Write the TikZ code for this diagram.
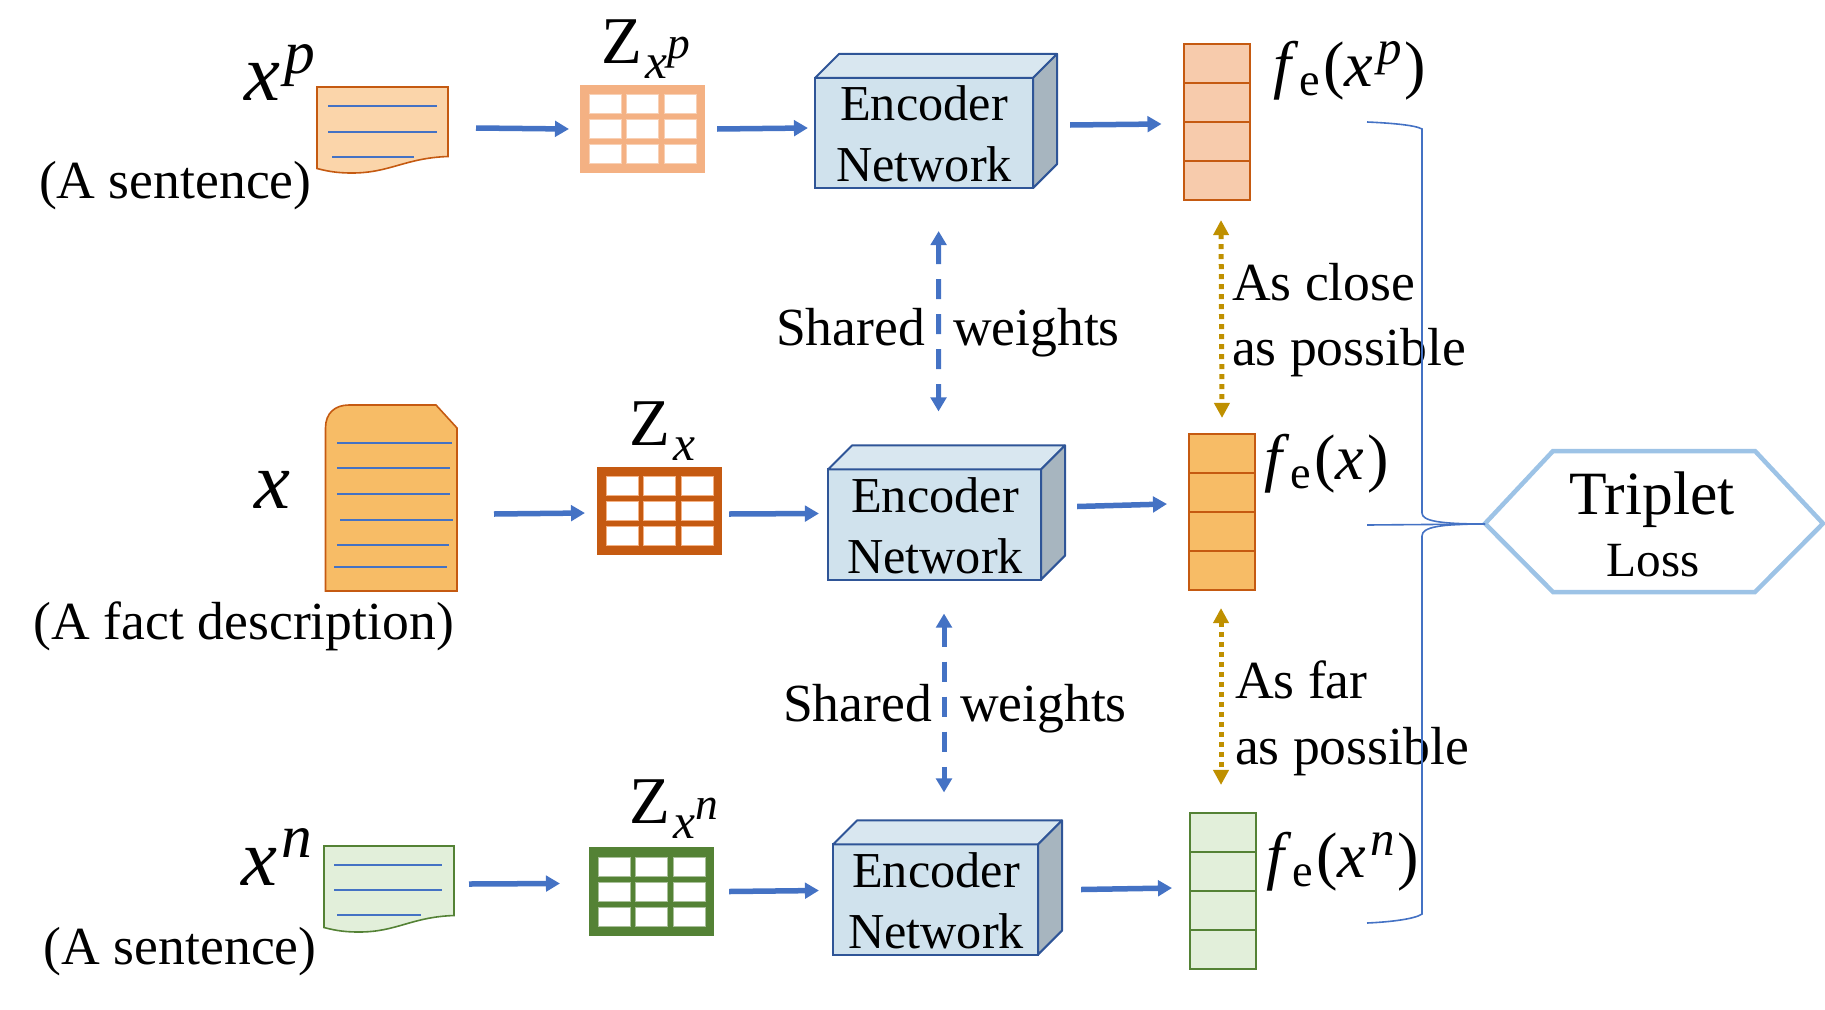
\documentclass[tikz,border=0pt]{standalone}
\usepackage{fontspec}
\setmainfont{Liberation Serif}
\usepackage{xcolor}
\usepackage{tikz}
\usetikzlibrary{arrows.meta,calc}
\definecolor{flowblue}{RGB}{68,114,196}
\definecolor{goldline}{RGB}{191,144,0}
\definecolor{encline}{RGB}{47,85,151}
\definecolor{encfront}{RGB}{208,226,237}
\definecolor{enctop}{RGB}{217,231,240}
\definecolor{encside}{RGB}{167,181,191}
\definecolor{lossline}{RGB}{157,195,230}
\definecolor{topdraw}{RGB}{197,90,17}
\definecolor{topdoc}{RGB}{251,213,170}
\definecolor{topvec}{RGB}{247,203,172}
\definecolor{topgrid}{RGB}{244,177,131}
\definecolor{middoc}{RGB}{247,188,102}
\definecolor{botdraw}{RGB}{84,130,53}
\definecolor{botdoc}{RGB}{226,239,218}
\tikzset{
  flow/.style={
    -{Triangle[length=.14cm,width=.155cm]},
    flowblue,
    line width=.055cm
  },
  shared/.style={
    {Triangle[length=.14cm,width=.155cm]}-{Triangle[length=.14cm,width=.155cm]},
    flowblue,
    line width=.05cm,
    dash pattern=on .2cm off .15cm
  },
  gap/.style={
    {Triangle[length=.15cm,width=.15cm]}-{Triangle[length=.15cm,width=.15cm]},
    goldline,
    line width=.05cm,
    dash pattern=on .05cm off .05cm
  },
  docline/.style={flowblue, line width=.012cm},
  bracket/.style={flowblue, line width=.016cm},
  encoder/.style={
    draw=encline,
    fill=encfront,
    line width=.02cm,
    inner sep=0,
    outer sep=0,
    minimum height=1.1cm
  },
  enclabel/.style={
    inner sep=0,
    outer sep=0,
    align=center,
    font=\fontsize{14.3}{17.3}\selectfont
  },
  vector/.style={
    draw,
    line width=.02cm,
    inner sep=0,
    outer sep=0,
    minimum width=.66cm,
    minimum height=1.56cm
  },
  gridbox/.style={
    inner sep=0,
    outer sep=0,
    minimum width=1.25cm,
    minimum height=.88cm
  },
  lbl/.style={
    inner sep=0,
    outer sep=0,
    anchor=base west,
    font=\fontsize{15.25}{18}\selectfont
  },
  inputsym/.style={lbl, font=\fontsize{23}{26}\selectfont},
  zsym/.style={lbl, font=\fontsize{19}{22}\selectfont},
  fsym/.style={lbl, font=\fontsize{18.3}{22}\selectfont}
}
% white cells of an embedding table
\newcommand{\gridcells}[2]{
  \foreach \i in {-1,0,1}
    \foreach \j in {-1,0,1}
      \draw[fill=white, draw=#2, line width=.006cm] ([shift={(\i*37.5-16,\j*25-9.5)}]#1.center) rectangle +(32,19);
}
% row lines of a vector
\newcommand{\vecrows}[2]{
  \foreach \k in {.25,.5,.75}
    \draw[line width=.02cm, draw=#2] ($(#1.north west)!\k!(#1.south west)$) -- ($(#1.north east)!\k!(#1.south east)$);
}
% symbols
\newcommand{\varsup}[1]{\textit{x}\kern.06em\raisebox{.335em}{\scalebox{.76}{\textit{#1}}}}
\newcommand{\fvar}[1]{\textit{f}\kern.02em\raisebox{-.15em}{\scalebox{.72}{e}}\kern.05em(#1\kern.05em)}
\newcommand{\zvar}[1]{Z\kern.06em\raisebox{-.225em}{\scalebox{.74}{\textit{x}}}#1}
\newcommand{\zsup}[1]{\raisebox{.06em}{\scalebox{.68}{\textit{#1}}}}
\begin{document}
\begin{tikzpicture}[x=.01cm,y=-.01cm]
  \useasboundingbox (0,-1) rectangle (1825,1008);

  % Input documents
  \draw[topdraw, fill=topdoc, line width=.016cm] (317,86) -- (448,86) -- (448,155.5) .. controls (405,157) and (390,172) .. (352,172) .. controls (340,172) and (330,171) .. (317,167.5) -- cycle;
  \draw[docline] (328,105) -- (437,105);
  \draw[docline] (328,131) -- (437,131);
  \draw[docline] (332,156) -- (414,156);
  \coordinate (docp) at (448,129);

  \draw[topdraw, fill=middoc, line width=.016cm] (325.5,590) -- (325.5,427) .. controls (325.5,412) and (335,404) .. (349,404) -- (436,404) -- (457,427) -- (457,590) -- cycle;
  \draw[docline] (337,442) -- (452,442);
  \draw[docline] (337,467) -- (450,467);
  \draw[docline] (337,493) -- (450,493);
  \draw[docline] (340,519) -- (453,519);
  \draw[docline] (337,544) -- (449,544);
  \draw[docline] (334,566) -- (447,566);
  \coordinate (docx) at (457,513);

  \draw[botdraw, fill=botdoc, line width=.016cm] (324,845) -- (454,845) -- (454,914.5) .. controls (411,916) and (397,931) .. (359,931) .. controls (347,931) and (337,930) .. (324,926.5) -- cycle;
  \draw[docline] (334,864) -- (442,864);
  \draw[docline] (334,889) -- (442,889);
  \draw[docline] (337,914) -- (421,914);
  \coordinate (docn) at (454,888);

  % Input labels
  \node[inputsym] (symp) at (244,100) {\varsup{p}};
  \node[inputsym] (symx) at (254,507) {\textit{x}};
  \node[inputsym] (symn) at (241,884) {\varsup{n}};
  \node[lbl] (sentp) at (39,197) {(A sentence)};
  \node[lbl] (fact) at (34,638) {(A fact description)};
  \node[lbl] (sentn) at (44,963) {(A sentence)};

  % Embedding tables
  \node[gridbox, fill=topgrid] (zp) at (642.5,128) {};
  \gridcells{zp}{topgrid!60}
  \node[gridbox, fill=topdraw] (zx) at (659.5,510) {};
  \gridcells{zx}{topgrid}
  \node[gridbox, fill=botdraw] (zn) at (651.5,890.5) {};
  \gridcells{zn}{botdraw!50}
  \node[zsym] (zpl) at (601,62) {\zvar{\zsup{p}}};
  \node[zsym] (zxl) at (629,444) {\zvar{}};
  \node[zsym] (znl) at (629,822) {\zvar{\zsup{n}}};

  % Encoders
  \node[encoder, minimum width=2.18cm] (encp) at (924,132) {};
  \node[encoder, minimum width=2.13cm] (encx) at (934.5,523.5) {};
  \node[encoder, minimum width=2.05cm] (encn) at (935.5,898.5) {};
  \foreach \e in {encp,encx,encn} {
    \draw[encline, fill=enctop, line width=.02cm, line join=round] (\e.north west) -- ++(24,-24) -- ([shift={(24,-24)}]\e.north east) -- (\e.north east) -- cycle;
    \draw[encline, fill=encside, line width=.02cm, line join=round] (\e.north east) -- ++(24,-24) -- ([shift={(24,-24)}]\e.south east) -- (\e.south east) -- cycle;
  }
  \node[enclabel] (encptext) at (924,133) {Encoder\\Network};
  \node[enclabel] (encxtext) at (935,525) {Encoder\\Network};
  \node[enclabel] (encntext) at (936,900) {Encoder\\Network};

  % Vectors
  \node[vector, draw=topdraw, fill=topvec] (vecp) at (1216.5,121) {};
  \vecrows{vecp}{topdraw}
  \node[vector, draw=topdraw, fill=middoc] (vecx) at (1222,511) {};
  \vecrows{vecx}{topdraw}
  \node[vector, draw=botdraw, fill=botdoc] (vecn) at (1223,890) {};
  \vecrows{vecn}{botdraw}
  \node[fsym] (fp) at (1273,85) {\fvar{\varsup{p}}};
  \node[fsym] (fx) at (1264,478) {\fvar{\textit{x}}};
  \node[fsym] (fn) at (1266,876) {\fvar{\varsup{n}}};

  % Row arrows
  \draw[flow] ([shift={(28,-2)}]docp) -- ([shift={(-11,0)}]zp.west);
  \draw[flow] ([shift={(12,0)}]zp.east) -- ([shift={(-7,-5)}]encp.west);
  \draw[flow] ([shift={(37,-8)}]encp.east) -- ([shift={(-22,2)}]vecp.west);
  \draw[flow] ([shift={(37,0)}]docx) -- ([shift={(-12,2)}]zx.west);
  \draw[flow] ([shift={(7,3)}]zx.east) -- ([shift={(-9,-11)}]encx.west);
  \draw[flow] ([shift={(36,-18)}]encx.east) -- ([shift={(-22,-8)}]vecx.west);
  \draw[flow] ([shift={(15,-5)}]docn) -- ([shift={(-29,-8)}]zn.west);
  \draw[flow] ([shift={(15,0)}]zn.east) -- ([shift={(-14,-9)}]encn.west);
  \draw[flow] ([shift={(43,-10)}]encn.east) -- ([shift={(-18,-3)}]vecn.west);

  % Shared weights
  \draw[shared] ([shift={(14.6,43)}]encp.south) -- ([shift={(4,-58)}]encx.north);
  \draw[shared] ([shift={(9.5,34)}]encx.south) -- ([shift={(8.5,-52)}]encn.north);
  \node[lbl] (shareda) at (776,344) {Shared};
  \node[lbl] (weightsa) at (953,344) {weights};
  \node[lbl] (sharedb) at (783,720) {Shared};
  \node[lbl] (weightsb) at (960,720) {weights};

  % Distances
  \draw[gap] ([shift={(4.5,20)}]vecp.south) -- ([shift={(0,-16)}]vecx.north);
  \draw[gap] ([shift={(-1,18)}]vecx.south) -- ([shift={(-2,-28)}]vecn.north);
  \node[lbl] (closea) at (1232,299) {As close};
  \node[lbl] (closeb) at (1232,364) {as possible};
  \node[lbl] (fara) at (1235,697) {As far};
  \node[lbl] (farb) at (1235,763) {as possible};

  % Triplet loss
  \draw[lossline, line width=.045cm, line join=miter] (1485,522.5) -- (1553,450) -- (1755,450) -- (1823,522.5) -- (1755,591) -- (1553,591) -- cycle;
  \node[lbl, anchor=base, font=\fontsize{17.5}{20}\selectfont] (triplet) at (1652,513) {Triplet};
  \node[lbl, anchor=base, font=\fontsize{14}{16}\selectfont] (losstext) at (1653,575) {Loss};
  \coordinate (loss) at (1485,523);
  \coordinate (brtop) at (1367,121);
  \coordinate (brmid) at (1367,524);
  \coordinate (brbot) at (1367,922);
  \draw[bracket] (brtop) .. controls (1390,122) and (1415,124) .. (1422,128) -- (1422,512) .. controls (1422,520) and (1440,523) .. (loss) .. controls (1440,523) and (1422,526) .. (1422,535) -- (1422,913) .. controls (1415,918) and (1390,921) .. (brbot);
  \draw[bracket] (brmid) -- (loss);

\end{tikzpicture}
\end{document}
